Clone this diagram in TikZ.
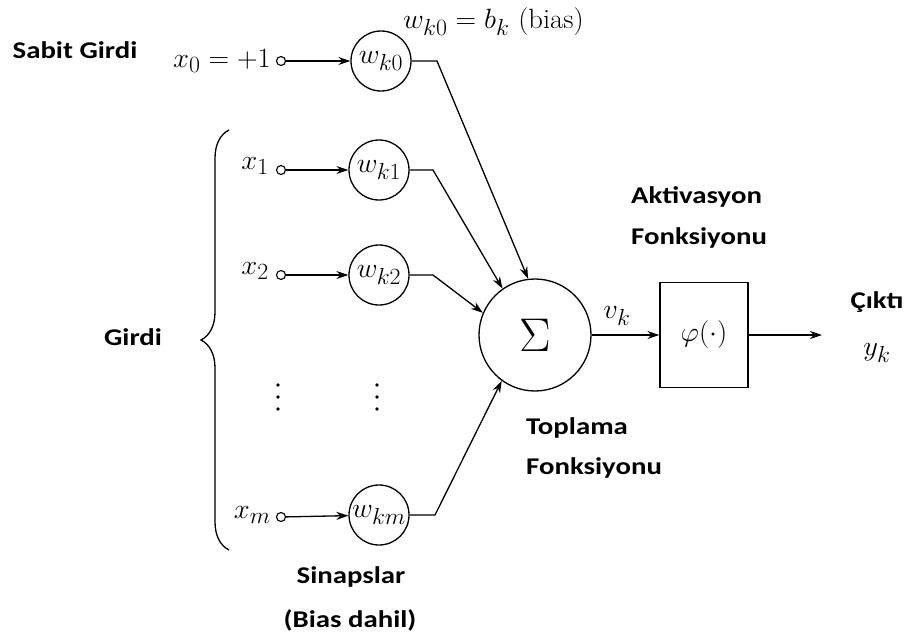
\documentclass[tikz,border=0pt]{standalone}
\usepackage{graphicx}
\usepackage{fontspec}
\newfontfamily\lab[FakeStretch=1.2]{Carlito}
\newcommand{\mscale}[1]{\scalebox{1.15}[1.12]{#1}}
\usetikzlibrary{arrows.meta,decorations.pathreplacing}
\begin{document}
\begin{tikzpicture}[x=1pt,y=-1pt,
  lbl/.style={font=\lab\bfseries\fontsize{24}{28}\selectfont, inner sep=1pt},
  mth/.style={font=\fontsize{24.88}{29}\selectfont, inner sep=1pt},
  wcirc/.style={circle,draw,line width=1.3pt,minimum size=60pt,inner sep=0pt,mth},
  pin/.style={circle,draw,line width=1.1pt,minimum size=9pt,inner sep=0pt},
  conn/.style={line width=1.3pt},
  arr/.style={conn,-{Stealth[length=12pt,width=8pt]}}]
\useasboundingbox (0,0) rectangle (907,634);

% labels
\node[lbl] (sabit) at (75,50) {Sabit Girdi};
\node[lbl] (girdi) at (133,337) {Girdi};
\node[lbl] (sin) at (351,577) {Sinapslar};
\node[lbl] (bd) at (350,620) {(Bias dahil)};
\node[lbl,anchor=west] (akt) at (630,197) {Aktivasyon};
\node[lbl,anchor=west] (fk1) at (630,238) {Fonksiyonu};
\node[lbl,anchor=west] (top) at (525,428) {Toplama};
\node[lbl,anchor=west] (fk2) at (525,468) {Fonksiyonu};
\node[lbl] (cikti) at (877,302) {Çıktı};
\node[mth] (yk) at (877,353) {\mscale{$y_k$}};

% inputs
\node[pin] (p0) at (281,61) {};
\node[mth,anchor=east] (x0) at (272,61) {\mscale{$x_0=+1$}};
\node[pin] (p1) at (281,170) {};
\node[mth,anchor=east] (x1) at (270,166) {\mscale{$x_1$}};
\node[pin] (p2) at (281,275) {};
\node[mth,anchor=east] (x2) at (270,271) {\mscale{$x_2$}};
\node[pin] (pm) at (281,517) {};
\node[mth,anchor=east] (xm) at (272,515) {\mscale{$x_m$}};

% weights
\node[wcirc] (w0) at (381,61) {\mscale{$w_{k0}$}};
\node[wcirc] (w1) at (379,170) {\mscale{$w_{k1}$}};
\node[wcirc] (w2) at (379,275) {\mscale{$w_{k2}$}};
\node[wcirc] (wm) at (379,515) {\mscale{$w_{km}$}};
\node[mth,anchor=west] (bias) at (402,22) {\mscale{$w_{k0}=b_k$ (bias)}};

% dots
\foreach \yy in {385,397,409}{
  \fill (278,\yy) circle (1.9pt);
  \fill (377,\yy) circle (1.9pt);
}

% brace
\draw[conn,decorate,decoration={brace,amplitude=28pt}] (229,550) -- (229,130);

% summation and activation
\node[circle,draw,line width=1.3pt,minimum size=112pt,inner sep=0pt,mth] (sig) at (535,335) {\scalebox{1.9}{$\Sigma$}};
\node[draw,line width=1.3pt,minimum width=88pt,minimum height=105pt,mth] (phi) at (704,335) {\mscale{$\varphi(\cdot)$}};
\node[mth] (vk) at (617,316) {\mscale{$v_k$}};
\coordinate (out) at (822,335);

% connectors
\draw[arr] (p0) -- (w0);
\draw[arr] (p1) -- (w1);
\draw[arr] (p2) -- (w2);
\draw[arr] (pm) -- (wm);
\coordinate (b0) at (437,61);
\coordinate (b1) at (433,170);
\coordinate (b2) at (433,275);
\coordinate (bm) at (435,515);
\draw[arr] (w0) -- (b0) -- (sig.97);
\draw[arr] (w1) -- (b1) -- (sig.125);
\draw[arr] (w2) -- (b2) -- (sig.157);
\draw[arr] (wm) -- (bm) -- (sig.234);
\draw[arr] (sig) -- (phi);
\draw[arr] (phi) -- (out);
\end{tikzpicture}
\end{document}
